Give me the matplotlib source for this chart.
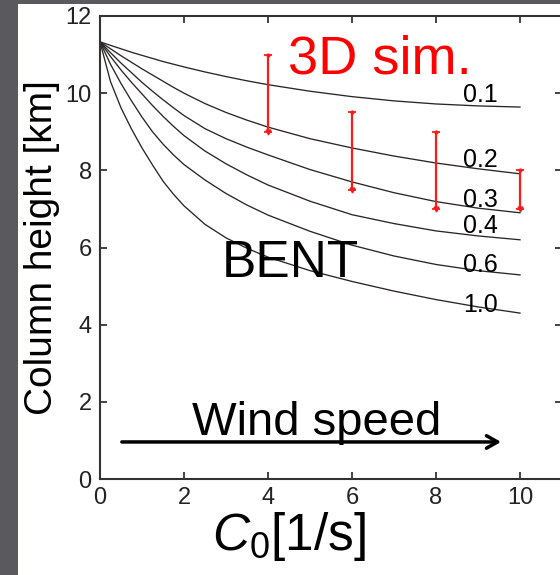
import matplotlib
matplotlib.use("Agg")
import matplotlib.pyplot as plt
from matplotlib.patches import Rectangle

plt.rcParams['font.family'] = ['Liberation Sans', 'DejaVu Sans']
plt.rcParams['mathtext.fontset'] = 'custom'
plt.rcParams['mathtext.rm'] = 'Liberation Sans'
plt.rcParams['mathtext.it'] = 'Liberation Sans:italic'

# ---- data ----
c0 = [0, 0.25, 0.5, 0.75, 1, 1.25, 1.5, 1.75, 2, 2.5, 3, 3.5, 4, 5, 6, 7, 8, 9, 10]
curve_labels = ["0.1", "0.2", "0.3", "0.4", "0.6", "1.0"]
h_01 = [11.33, 11.24, 11.15, 11.06, 10.98, 10.90, 10.82, 10.75, 10.68, 10.55, 10.43, 10.32, 10.22, 10.05, 9.91, 9.80, 9.72, 9.67, 9.64]
h_02 = [11.33, 11.15, 10.97, 10.80, 10.63, 10.47, 10.31, 10.15, 10.00, 9.73, 9.50, 9.30, 9.12, 8.82, 8.58, 8.37, 8.19, 8.04, 7.91]
h_03 = [11.33, 11.05, 10.78, 10.53, 10.28, 10.05, 9.83, 9.62, 9.42, 9.08, 8.82, 8.60, 8.40, 8.02, 7.70, 7.42, 7.19, 7.02, 6.90]
h_04 = [11.33, 10.95, 10.60, 10.28, 9.98, 9.68, 9.40, 9.14, 8.90, 8.50, 8.17, 7.88, 7.62, 7.20, 6.85, 6.62, 6.43, 6.30, 6.20]
h_06 = [11.33, 10.75, 10.25, 9.80, 9.38, 9.00, 8.68, 8.40, 8.15, 7.75, 7.40, 7.10, 6.84, 6.42, 6.06, 5.78, 5.56, 5.40, 5.29]
h_10 = [11.33, 10.30, 9.62, 9.07, 8.58, 8.14, 7.72, 7.38, 7.08, 6.60, 6.25, 5.98, 5.75, 5.40, 5.12, 4.87, 4.65, 4.46, 4.30]
label_y = [9.77, 8.09, 7.05, 6.38, 5.37, 4.33]

sim_c0 = [4, 6, 8, 10]
sim_low = [9.0, 7.5, 7.0, 7.0]
sim_high = [11.0, 9.5, 9.0, 8.0]

xticks = [0, 2, 4, 6, 8, 10]
yticks = [0, 2, 4, 6, 8, 10, 12]

# ---- figure ----
fig = plt.figure(figsize=(5.6, 5.75), dpi=100, facecolor='#59595e')
fig.patches.append(Rectangle((18/560, 0), 1, 1 - 4/575, transform=fig.transFigure,
                             facecolor='white', edgecolor='none', zorder=-1))

ax = fig.add_axes([100/560, 1 - 479/575, 462/560, 463/575])
ax.set_facecolor('white')

curves = [h_01, h_02, h_03, h_04, h_06, h_10]
for h, lab, ly in zip(curves, curve_labels, label_y):
    ax.plot(c0, h, color='#2b2626', lw=0.95)
    ax.text(8.65, ly, lab, fontsize=18, ha='left', va='baseline', color='black')

mid = [(lo + hi) / 2 for lo, hi in zip(sim_low, sim_high)]
err = [[m - lo for m, lo in zip(mid, sim_low)], [hi - m for m, hi in zip(mid, sim_high)]]
ax.errorbar(sim_c0, mid, yerr=err, fmt='none', ecolor='#ff1a1a', elinewidth=1.6,
            capsize=3, capthick=1.3)
ax.plot(sim_c0, sim_low, linestyle='none', marker='v', ms=3.5, color='#ff1a1a')
ax.plot(sim_c0, sim_high, linestyle='none', marker='o', ms=2, color='#ff1a1a')

ax.text(4.48, 10.52, "3D sim.", color='#ff0000', fontsize=39, ha='left', va='baseline')
ax.text(2.90, 5.24, "BENT", color='black', fontsize=37, ha='left', va='baseline')
ax.text(5.15, 1.15, "Wind speed", color='black', fontsize=34, ha='center', va='baseline')
ax.annotate('', xy=(9.55, 0.96), xytext=(0.52, 0.96),
            arrowprops=dict(arrowstyle='->,head_length=0.8,head_width=0.45', lw=2.5, color='black',
                            shrinkA=0, shrinkB=0))

ax.set_xlim(0, 11)
ax.set_ylim(0, 12)
ax.set_xticks(xticks)
ax.set_yticks(yticks)
ax.tick_params(direction='in', length=5, width=1.2, top=True, right=True,
               labelsize=17, pad=6, colors='#222222')
for s in ax.spines.values():
    s.set_linewidth(1.5)
    s.set_color('#333333')

ax.set_ylabel("Column height [km]", fontsize=28, labelpad=4)
ax.set_xlabel(r"$\mathit{C}_0$[1/s]", fontsize=37, labelpad=2)
ax.xaxis.set_label_coords(0.408, -0.068, transform=ax.transAxes)
ax.xaxis.label.set_va('top')

fig.savefig("out.png", dpi=100, facecolor=fig.get_facecolor())
